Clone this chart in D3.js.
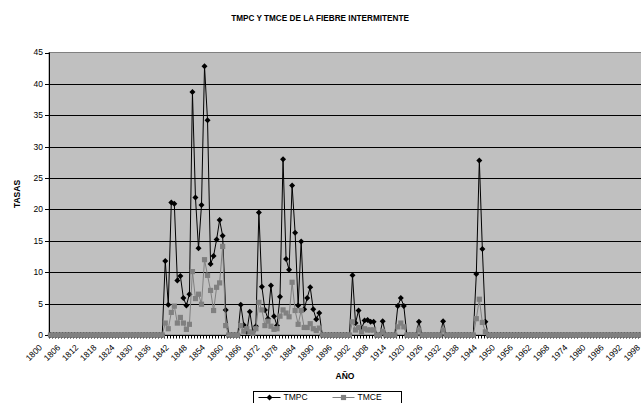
<!DOCTYPE html>
<html>
<head>
<meta charset="utf-8">
<script src="https://cdn.jsdelivr.net/npm/d3@7"></script>
<style>
  html, body { margin: 0; padding: 0; background: #fff; }
  svg { display: block; font-family: "Liberation Sans", Arial, sans-serif; }
</style>
</head>
<body>
<div id="chart"></div>
<script>
const width = 641;
const height = 403;

// categories: one per year
const years = [];
for (let y = 1800; y <= 2000; y++) years.push(y);

// TMPC, 1800-2000, one row per decade
const tmpc = [
  0, 0, 0, 0, 0, 0, 0, 0, 0, 0,
  0, 0, 0, 0, 0, 0, 0, 0, 0, 0,
  0, 0, 0, 0, 0, 0, 0, 0, 0, 0,
  0, 0, 0, 0, 0, 0, 0, 0, 11.8, 4.8,
  21.1, 20.9, 8.7, 9.4, 5.9, 4.7, 6.5, 38.7, 21.9, 13.8,
  20.7, 42.8, 34.2, 11.3, 12.6, 15.2, 18.3, 15.8, 4.0, 0,
  0, 0, 0, 4.8, 1.6, 0.5, 3.7, 0.5, 1.4, 19.5,
  7.7, 4.0, 2.6, 7.9, 3.0, 1.5, 6.1, 28.0, 12.1, 10.4,
  23.8, 16.3, 4.7, 14.9, 4.1, 5.9, 7.6, 4.1, 2.5, 3.5,
  0, 0, 0, 0, 0, 0, 0, 0, 0, 0,
  9.5, 1.9, 3.9, 1.0, 2.3, 2.4, 2.1, 2.1, 0, 0,
  2.2, 0, 0, 0, 0, 4.6, 5.9, 4.6, 0, 0,
  0, 0, 2.1, 0, 0, 0, 0, 0, 0, 0,
  2.2, 0, 0, 0, 0, 0, 0, 0, 0, 0,
  0, 9.7, 27.8, 13.7, 2.1, 0, 0, 0, 0, 0,
  0, 0, 0, 0, 0, 0, 0, 0, 0, 0,
  0, 0, 0, 0, 0, 0, 0, 0, 0, 0,
  0, 0, 0, 0, 0, 0, 0, 0, 0, 0,
  0, 0, 0, 0, 0, 0, 0, 0, 0, 0,
  0, 0, 0, 0, 0, 0, 0, 0, 0, 0,
  0
];

// TMCE, 1800-2000, one row per decade
const tmce = [
  0, 0, 0, 0, 0, 0, 0, 0, 0, 0,
  0, 0, 0, 0, 0, 0, 0, 0, 0, 0,
  0, 0, 0, 0, 0, 0, 0, 0, 0, 0,
  0, 0, 0, 0, 0, 0, 0, 0, 1.9, 1.0,
  3.6, 4.6, 1.9, 2.8, 1.9, 0.9, 1.7, 10.1, 5.8, 6.5,
  4.9, 12.0, 9.5, 7.1, 3.9, 7.6, 8.3, 14.1, 1.5, 0,
  0, 0, 0, 1.5, 0.6, 1.0, 0.5, 0.3, 1.0, 5.2,
  4.0, 1.5, 2.2, 1.4, 0.9, 1.0, 3.0, 4.0, 3.5, 2.9,
  8.4, 3.9, 1.7, 3.9, 1.2, 1.2, 1.8, 1.0, 0.7, 1.1,
  0, 0, 0, 0, 0, 0, 0, 0, 0, 0,
  2.1, 0.8, 1.2, 0.5, 1.0, 0.8, 0.8, 0.8, 0, 0,
  0.6, 0, 0, 0, 0, 1.3, 1.9, 1.3, 0, 0,
  0, 0, 0.8, 0, 0, 0, 0, 0, 0, 0,
  0.8, 0, 0, 0, 0, 0, 0, 0, 0, 0,
  0, 2.6, 5.7, 2.0, 0.5, 0, 0, 0, 0, 0,
  0, 0, 0, 0, 0, 0, 0, 0, 0, 0,
  0, 0, 0, 0, 0, 0, 0, 0, 0, 0,
  0, 0, 0, 0, 0, 0, 0, 0, 0, 0,
  0, 0, 0, 0, 0, 0, 0, 0, 0, 0,
  0, 0, 0, 0, 0, 0, 0, 0, 0, 0,
  0
];

const yTicks = [0, 5, 10, 15, 20, 25, 30, 35, 40, 45];
const labelEvery = 6;

const plot = { left: 49, top: 52.5, bottom: 335, right: 656 };

const x = d3.scaleBand()
    .domain(years)
    .range([plot.left, plot.right])
    .padding(0);
const cx = d => x(d) + x.bandwidth() / 2;

const y = d3.scaleLinear()
    .domain([0, 45])
    .range([plot.bottom, plot.top]);

const svg = d3.create("svg")
    .attr("width", width)
    .attr("height", height);

// plot area
svg.append("rect")
    .attr("x", plot.left)
    .attr("y", plot.top)
    .attr("width", plot.right - plot.left)
    .attr("height", plot.bottom - plot.top)
    .attr("fill", "#c0c0c0")
    .attr("stroke", "#808080")
    .attr("stroke-width", 1);

// gridlines
svg.append("g")
    .selectAll("line")
    .data(yTicks.filter(t => t > 0 && t < 45))
    .join("line")
    .attr("x1", plot.left)
    .attr("x2", plot.right)
    .attr("y1", d => Math.round(y(d)) + 0.5)
    .attr("y2", d => Math.round(y(d)) + 0.5)
    .attr("stroke", "#000")
    .attr("stroke-width", 1);

// y axis
const yAxis = svg.append("g");
yAxis.append("line")
    .attr("x1", plot.left + 0.5).attr("x2", plot.left + 0.5)
    .attr("y1", plot.top).attr("y2", plot.bottom)
    .attr("stroke", "#000");
yAxis.selectAll("line.tick")
    .data(yTicks)
    .join("line")
    .attr("class", "tick")
    .attr("x1", plot.left - 4).attr("x2", plot.left)
    .attr("y1", d => Math.round(y(d)) + 0.5)
    .attr("y2", d => Math.round(y(d)) + 0.5)
    .attr("stroke", "#000");
yAxis.selectAll("text")
    .data(yTicks)
    .join("text")
    .attr("x", plot.left - 6)
    .attr("y", d => y(d))
    .attr("dy", "0.35em")
    .attr("text-anchor", "end")
    .attr("font-size", "8.5px")
    .attr("fill", "#000")
    .text(d => d);

// x axis
const xAxis = svg.append("g");
xAxis.append("line")
    .attr("x1", plot.left).attr("x2", plot.right)
    .attr("y1", plot.bottom + 0.5).attr("y2", plot.bottom + 0.5)
    .attr("stroke", "#000");
xAxis.selectAll("line.tick")
    .data(years)
    .join("line")
    .attr("class", "tick")
    .attr("x1", d => Math.round(x(d)) + 0.5)
    .attr("x2", d => Math.round(x(d)) + 0.5)
    .attr("y1", plot.bottom)
    .attr("y2", plot.bottom + 3.5)
    .attr("stroke", "#000");
// labels sit a little left of their category, as in the original
xAxis.selectAll("text")
    .data(years.filter((d, i) => i % labelEvery === 0))
    .join("text")
    .attr("transform", d => `translate(${cx(d) - 10},${plot.bottom + 11}) rotate(-45)`)
    .attr("text-anchor", "end")
    .attr("dy", "0.35em")
    .attr("font-size", "8.5px")
    .attr("fill", "#000")
    .text(d => d);

// series
const series = [
  { name: "TMPC", values: tmpc, colour: "#000000", marker: "diamond" },
  { name: "TMCE", values: tmce, colour: "#808080", marker: "square" },
];

const line = d3.line()
    .x(d => cx(d.year))
    .y(d => y(d.value));

const markerPath = (type, px, py) => {
  if (type === "diamond") {
    const r = 3;
    return `M${px},${py - r}L${px + r},${py}L${px},${py + r}L${px - r},${py}Z`;
  }
  const h = 2.6;
  return `M${px - h},${py - h}H${px + h}V${py + h}H${px - h}Z`;
};

series.forEach(s => {
  const pts = years.map((yr, i) => ({ year: yr, value: s.values[i] }));
  const g = svg.append("g");
  g.append("path")
      .datum(pts)
      .attr("d", line)
      .attr("fill", "none")
      .attr("stroke", s.colour)
      .attr("stroke-width", 1);
  g.selectAll("path.mk")
      .data(pts)
      .join("path")
      .attr("class", "mk")
      .attr("d", d => markerPath(s.marker, cx(d.year), y(d.value)))
      .attr("fill", s.colour);
});

// titles
svg.append("text")
    .attr("x", 320)
    .attr("y", 21)
    .attr("text-anchor", "middle")
    .attr("font-size", "8.2px")
    .attr("font-weight", "bold")
    .text("TMPC Y TMCE DE LA FIEBRE INTERMITENTE");

svg.append("text")
    .attr("transform", "translate(20,194) rotate(-90)")
    .attr("text-anchor", "middle")
    .attr("font-size", "8.5px")
    .attr("font-weight", "bold")
    .text("TASAS");

svg.append("text")
    .attr("x", 345)
    .attr("y", 379)
    .attr("text-anchor", "middle")
    .attr("font-size", "8.5px")
    .attr("font-weight", "bold")
    .text("AÑO");

// legend
const legend = svg.append("g").attr("transform", "translate(253.5,391.5)");
legend.append("rect")
    .attr("width", 148)
    .attr("height", 16)
    .attr("fill", "#fff")
    .attr("stroke", "#000");
series.forEach((s, i) => {
  const lx = 5 + i * 74;
  const ly = 6;
  legend.append("line")
      .attr("x1", lx).attr("x2", lx + 22)
      .attr("y1", ly).attr("y2", ly)
      .attr("stroke", s.colour);
  legend.append("path")
      .attr("d", markerPath(s.marker, lx + 11, ly))
      .attr("fill", s.colour);
  legend.append("text")
      .attr("x", lx + 25)
      .attr("y", ly)
      .attr("dy", "0.35em")
      .attr("font-size", "8.5px")
      .text(s.name);
});

document.querySelector("#chart").append(svg.node());
</script>
</body>
</html>
